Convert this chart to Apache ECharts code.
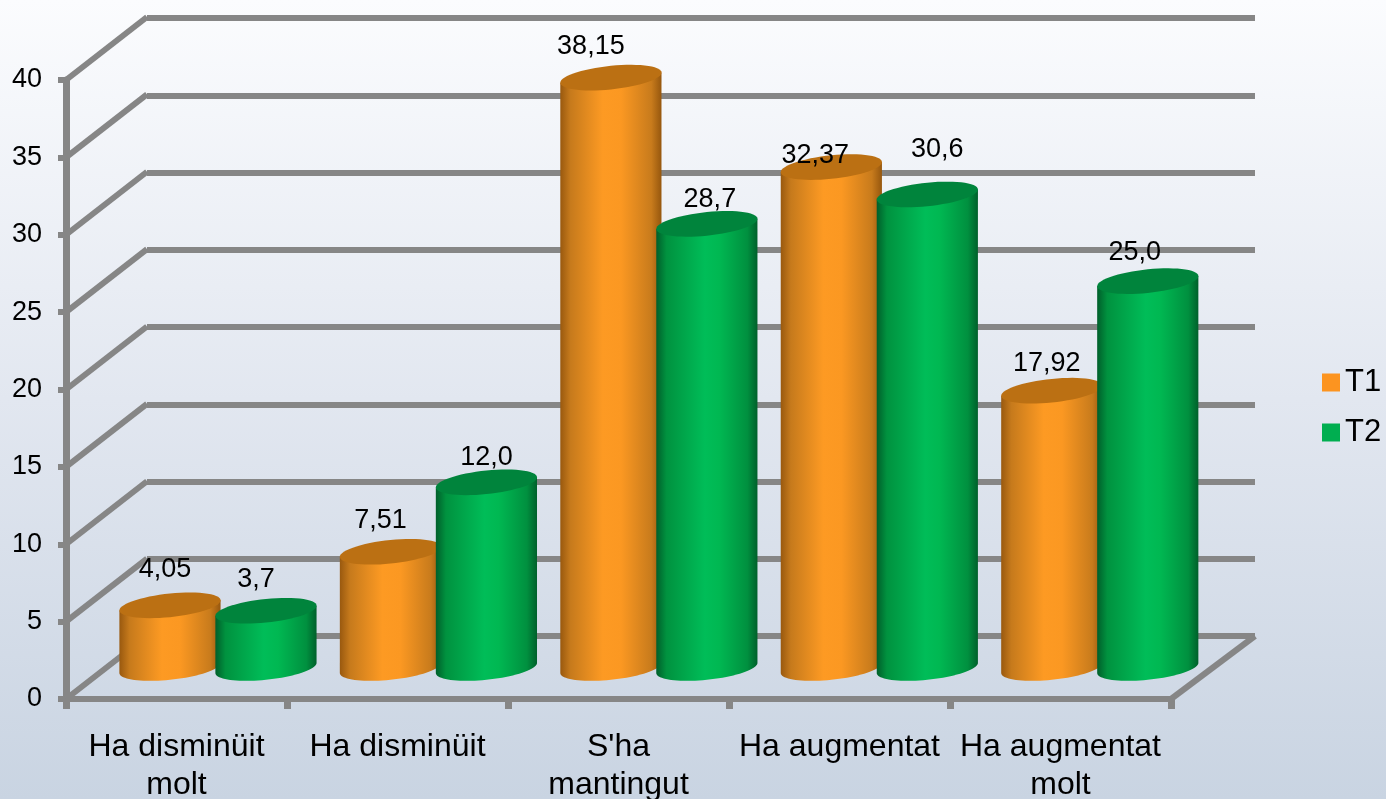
<!DOCTYPE html>
<html>
<head>
<meta charset="utf-8">
<style>html,body{margin:0;padding:0;width:100%;height:100%;overflow:hidden}#c{width:1386px;height:799px}</style>
<script src="https://cdn.jsdelivr.net/npm/echarts@6/dist/echarts.min.js"></script>
</head>
<body>
<div id="c"></div>
<script>
const categories = ['Ha disminüit\nmolt', 'Ha disminüit', "S'ha\nmantingut", 'Ha augmentat', 'Ha augmentat\nmolt'];
const t1Values = [4.05, 7.51, 38.15, 32.37, 17.92];
const t2Values = [3.7, 12.0, 28.7, 30.6, 25.0];
const t1Labels = ['4,05', '7,51', '38,15', '32,37', '17,92'];
const t2Labels = ['3,7', '12,0', '28,7', '30,6', '25,0'];
const yTicks = [0, 5, 10, 15, 20, 25, 30, 35, 40];

// hand-placed label nudges, relative to the top of each cylinder
const t1LabelNudge = [[-5, -36], [-10, -31], [-20, -31], [-16, -12], [-5, -27]];
const t2LabelNudge = [[-10, -31], [0, -25], [3, -24], [10, -45], [-13, -29]];

const FONT = '"Liberation Sans", Arial, sans-serif';
const GREY = '#868686';
const DEPTH = [81, -63];

function ellipsePts(cx, cy, rx, ry, k, from, to, n) {
  const pts = [];
  for (let i = 0; i <= n; i++) {
    const t = from + (to - from) * i / n;
    pts.push([cx + rx * Math.cos(t), cy + ry * Math.sin(t) - k * rx * Math.cos(t)]);
  }
  return pts;
}

function cylinderRenderer(side, labels, nudges, stops, capColor) {
  return function (params, api) {
    const idx = api.value(0);
    const val = api.value(1);
    const band = api.size([1, 0])[0];
    const base = api.coord([idx, 0]);
    const top = api.coord([idx, val]);
    const cx = base[0] + side * band * 0.2177;
    const rx = band * 0.2295;
    const ry = 11.8, k = 0.1;
    const bottomEdge = ellipsePts(cx, base[1], rx, ry, k, 0, Math.PI, 40);
    const body = [[cx - rx, top[1] + k * rx], [cx + rx, top[1] - k * rx]].concat(bottomEdge);
    const n = nudges[params.dataIndex];
    return {
      type: 'group',
      children: [
        { type: 'polygon', shape: { points: body },
          style: { fill: new echarts.graphic.LinearGradient(0, 0, 1, 0, stops) } },
        { type: 'polygon', shape: { points: ellipsePts(cx, top[1], rx, ry, k, 0, Math.PI * 2, 60) },
          style: { fill: capColor } },
        { type: 'text', z2: 100,
          style: { x: cx + n[0], y: top[1] + n[1], text: labels[params.dataIndex],
            font: '27px ' + FONT, fill: '#000', align: 'center', verticalAlign: 'middle' } }
      ]
    };
  };
}

const orangeStops = [
  { offset: 0, color: '#99590f' }, { offset: 0.1, color: '#c67a1c' },
  { offset: 0.42, color: '#fd9a23' }, { offset: 0.6, color: '#fb9822' },
  { offset: 0.9, color: '#c87b1c' }, { offset: 1, color: '#96570e' }
];
const greenStops = [
  { offset: 0, color: '#005f2b' }, { offset: 0.1, color: '#00923f' },
  { offset: 0.48, color: '#00bd58' }, { offset: 0.62, color: '#00b852' },
  { offset: 0.9, color: '#00903f' }, { offset: 1, color: '#00602b' }
];

const chart = echarts.init(document.getElementById('c'));
chart.setOption({
  animation: false,
  backgroundColor: new echarts.graphic.LinearGradient(0, 0, 0, 1, [
    { offset: 0, color: '#fbfcfe' }, { offset: 0.5, color: '#e2e7f0' }, { offset: 1, color: '#c9d4e2' }
  ]),
  legend: {
    orient: 'vertical', left: 1317, top: 362, itemWidth: 18, itemHeight: 18, itemGap: 19,
    icon: 'rect', data: ['T1', 'T2'],
    textStyle: { fontFamily: FONT, fontSize: 31, color: '#000', padding: [0, 0, 0, 0] }
  },
  grid: [
    { left: 66, right: 215, top: 80, bottom: 100, outerBoundsMode: 'none' },
    { left: 147, right: 131, top: 18, bottom: 163, outerBoundsMode: 'none' },
    { left: 107.75, right: 176, top: 49, bottom: 131, outerBoundsMode: 'none' }
  ],
  xAxis: [
    { gridIndex: 0, type: 'category', data: categories, boundaryGap: true,
      axisLine: { lineStyle: { color: GREY, width: 6 } },
      axisTick: { show: true, length: 10, lineStyle: { color: GREY, width: 7 } },
      axisLabel: { interval: 0, margin: 29, fontFamily: FONT, fontSize: 32, lineHeight: 38, color: '#000', hideOverlap: false },
      splitLine: { show: false } },
    { gridIndex: 1, type: 'category', data: categories,
      axisLine: { show: false }, axisTick: { show: false }, axisLabel: { show: false }, splitLine: { show: false } },
    { gridIndex: 2, type: 'category', data: categories,
      axisLine: { show: false }, axisTick: { show: false }, axisLabel: { show: false }, splitLine: { show: false } }
  ],
  yAxis: [
    { gridIndex: 0, type: 'value', min: 0, max: 40, interval: 5,
      axisLine: { show: true, lineStyle: { color: GREY, width: 7 } },
      axisTick: { show: true, length: 8, lineStyle: { color: GREY, width: 6 } },
      axisLabel: { margin: 24, padding: [6, 0, 0, 0], fontFamily: FONT, fontSize: 27, color: '#000' },
      splitLine: { show: false } },
    { gridIndex: 1, type: 'value', min: 0, max: 40, interval: 5,
      axisLine: { show: false }, axisTick: { show: false }, axisLabel: { show: false },
      splitLine: { show: true, lineStyle: { color: GREY, width: 6 } } },
    { gridIndex: 2, type: 'value', min: 0, max: 40, interval: 5,
      axisLine: { show: false }, axisTick: { show: false }, axisLabel: { show: false }, splitLine: { show: false } }
  ],
  series: [
    { name: 'walls', type: 'custom', xAxisIndex: 0, yAxisIndex: 0, silent: true, clip: false,
      data: yTicks.map(v => [0, v]),
      encode: { x: 0, y: 1 },
      renderItem: function (params, api) {
        const band = api.size([1, 0])[0];
        const p = api.coord([0, api.value(1)]);
        const x0 = p[0] - band / 2;
        const children = [{ type: 'line',
          shape: { x1: x0, y1: p[1], x2: x0 + DEPTH[0], y2: p[1] + DEPTH[1] },
          style: { stroke: GREY, lineWidth: 6 } }];
        if (api.value(1) === 0) {
          const x1 = x0 + band * categories.length;
          children.push({ type: 'line',
            shape: { x1: x1, y1: p[1], x2: x1 + 84, y2: p[1] + DEPTH[1] },
            style: { stroke: GREY, lineWidth: 6 } });
        }
        return { type: 'group', children: children };
      } },
    { name: 'T1', type: 'custom', xAxisIndex: 2, yAxisIndex: 2, clip: false,
      itemStyle: { color: '#fc9420' },
      data: t1Values.map((v, i) => [i, v]), encode: { x: 0, y: 1 },
      renderItem: cylinderRenderer(-1, t1Labels, t1LabelNudge, orangeStops, '#bb7013') },
    { name: 'T2', type: 'custom', xAxisIndex: 2, yAxisIndex: 2, clip: false,
      itemStyle: { color: '#00ae50' },
      data: t2Values.map((v, i) => [i, v]), encode: { x: 0, y: 1 },
      renderItem: cylinderRenderer(1, t2Labels, t2LabelNudge, greenStops, '#00843c') }
  ]
});
</script>
</body>
</html>
